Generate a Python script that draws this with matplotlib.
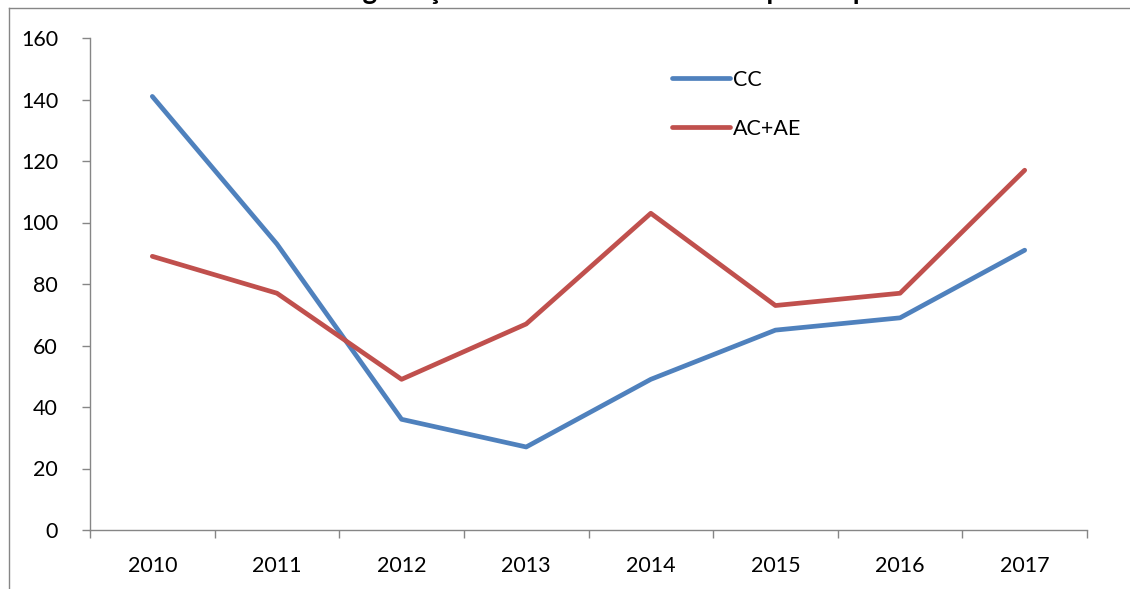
import matplotlib.pyplot as plt
from matplotlib.lines import Line2D

years = ["2010", "2011", "2012", "2013", "2014", "2015", "2016", "2017"]
cc = [141, 93, 36, 27, 49, 65, 69, 91]
ac_ae = [89, 77, 49, 67, 103, 73, 77, 117]

plt.rcParams["font.family"] = ["Lato", "DejaVu Sans"]

W, H = 1130, 589
fig = plt.figure(figsize=(W / 100, H / 100), dpi=100)
ax = fig.add_axes([90 / W, 1 - 530 / H, (1087 - 90) / W, (530 - 38) / H])

x = list(range(len(years)))
ax.plot(x, cc, color="#4F81BD", lw=3.4, solid_capstyle="round", label="CC")
ax.plot(x, ac_ae, color="#C0504D", lw=3.4, solid_capstyle="round", label="AC+AE")

grey = "#868686"
ax.set_xlim(-0.5, len(years) - 0.5)
ax.set_ylim(0, 160)
ax.set_yticks(range(0, 161, 20))
ax.set_xticks([i - 0.5 for i in range(len(years) + 1)])
ax.set_xticklabels([])
ax.set_xticks(x, minor=True)
ax.set_xticklabels(years, minor=True)
ax.tick_params(axis="x", which="major", direction="out", length=6, color=grey, width=1)
ax.tick_params(axis="x", which="minor", length=0, pad=19, labelsize=15.5)
ax.tick_params(axis="y", direction="out", length=6, color=grey, width=1, pad=17, labelsize=15.5)
for side in ("top", "right"):
    ax.spines[side].set_visible(False)
for side in ("left", "bottom"):
    ax.spines[side].set_color(grey)
    ax.spines[side].set_linewidth(1)

ax.legend(loc="upper left", bbox_to_anchor=(0.575, 0.953), frameon=False,
          fontsize=15.5, handlelength=2.7, handletextpad=0.15, labelspacing=1.36,
          borderaxespad=0)

# outer chart border, cropped at the right and bottom
fig.add_artist(Line2D([8.5 / W, 1], [1 - 7.5 / H, 1 - 7.5 / H], transform=fig.transFigure,
                      color=grey, lw=1))
fig.add_artist(Line2D([8.5 / W, 8.5 / W], [0, 1 - 7.5 / H], transform=fig.transFigure,
                      color=grey, lw=1))

# title mostly cut off above the frame (as in the source image)
fig.text(557 / W, 1 + 1 / H, "Gráfico 11 – Negociação coletiva: número de empresas por ano",
         ha="center", va="baseline", fontsize=20, fontweight="bold")

fig.savefig("out.png", dpi=100)
